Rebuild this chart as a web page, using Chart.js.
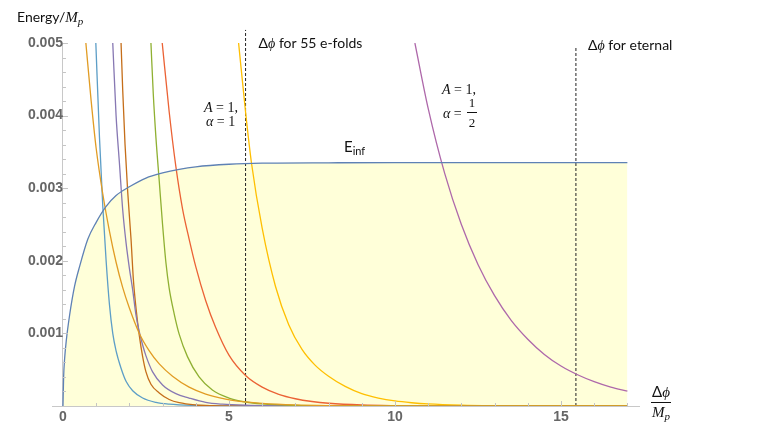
<!DOCTYPE html>
<html>
<head>
<meta charset="utf-8">
<script src="https://cdn.jsdelivr.net/npm/chart.js@4.4.1/dist/chart.umd.min.js"></script>
<style>
  html, body { margin: 0; padding: 0; background: #fff; }
  #wrap { width: 779px; height: 438px; position: relative; }
</style>
</head>
<body>
<div id="wrap"><canvas id="chart"></canvas></div>
<script>
// Energy / M_p against delta phi / M_p
const eInfX = [0, 0.02, 0.05, 0.1, 0.2, 0.35, 0.5, 0.75, 1.0, 1.3, 1.6, 2.0, 2.5, 3.0, 3.5, 4.0, 5.0, 6.0, 8.0, 10, 13, 17];
const eInfY = [0, 0.0004, 0.00065, 0.0009, 0.00125, 0.00165, 0.00192, 0.0023, 0.00253, 0.00275, 0.0029, 0.00302, 0.00314, 0.00321, 0.00326, 0.003295, 0.00333, 0.003345, 0.00335, 0.003352, 0.003352, 0.003352];

const orangeX = [0.69, 0.85, 1.0, 1.2, 1.4, 1.6, 1.8, 2.0, 2.3, 2.6, 2.9, 3.3, 3.8, 4.3, 4.9, 5.5, 6, 7, 8, 9, 10, 12, 17];
const orangeY = [0.005, 0.0042, 0.00355, 0.00292, 0.00241, 0.00198, 0.00163, 0.00135, 0.001, 0.00076, 0.00058, 0.00041, 0.00026, 0.000165, 0.000096, 0.000056, 0.000036, 0.000015, 0.000006, 0.0000024, 0.000001, 0.00000016, 0];

const lightBlueX = [0.99, 1.1, 1.2, 1.3, 1.4, 1.5, 1.6, 1.75, 1.9, 2.1, 2.4, 2.8, 3.2, 4, 5, 6, 8, 17];
const lightBlueY = [0.005, 0.0037, 0.00275, 0.002, 0.0014, 0.001, 0.00076, 0.00052, 0.00034, 0.00021, 0.00011, 0.00005, 0.000025, 0.000007, 0.000002, 0.0000005, 0, 0];

const purpleX = [1.5, 1.6, 1.7, 1.8, 1.9, 2.0, 2.1, 2.2, 2.3, 2.4, 2.5, 2.7, 3.0, 3.4, 3.8, 4.3, 4.8, 5.5, 6.5, 8, 17];
const purpleY = [0.005, 0.004, 0.00335, 0.0027, 0.00225, 0.0019, 0.0016, 0.00125, 0.00102, 0.00084, 0.00069, 0.00047, 0.00029, 0.00017, 0.00011, 0.00005, 0.000025, 0.00001, 0.000003, 0.0000005, 0];

const brownX = [1.75, 1.8, 1.87, 1.95, 2.05, 2.12, 2.2, 2.3, 2.4, 2.5, 2.65, 2.9, 3.2, 3.5, 4, 4.5, 5, 6, 17];
const brownY = [0.005, 0.00435, 0.0036, 0.00295, 0.0023, 0.00175, 0.00135, 0.00097, 0.00068, 0.00047, 0.0003, 0.00018, 0.00009, 0.000045, 0.000014, 0.000004, 0.0000015, 0, 0];

const greenX = [2.65, 2.72, 2.8, 2.9, 3.0, 3.1, 3.2, 3.35, 3.5, 3.75, 4.1, 4.5, 5.0, 5.5, 6, 7, 8, 10, 17];
const greenY = [0.005, 0.0043, 0.0037, 0.0031, 0.0025, 0.00198, 0.00162, 0.00127, 0.00099, 0.00068, 0.0004, 0.00022, 0.00011, 0.000055, 0.000028, 0.000008, 0.0000022, 0.0000002, 0];

const redX = [2.99, 3.2, 3.4, 3.6, 3.8, 4.0, 4.3, 4.6, 5.0, 5.5, 6.0, 6.5, 7.0, 7.5, 8, 9, 10, 11, 13, 17];
const redY = [0.005, 0.00405, 0.0033, 0.00272, 0.0023, 0.00192, 0.00145, 0.00108, 0.0007, 0.00042, 0.00026, 0.00016, 0.0001, 0.000062, 0.000038, 0.000014, 0.000005, 0.000002, 0.0000003, 0];

const yellowX = [5.29, 5.5, 5.68, 6.0, 6.4, 6.8, 7.2, 7.6, 8.0, 8.5, 9.0, 9.5, 10, 10.5, 11, 12, 13, 14, 15, 17];
const yellowY = [0.005, 0.00405, 0.00334, 0.00245, 0.00165, 0.00112, 0.00078, 0.00056, 0.00041, 0.00027, 0.00017, 0.00011, 0.00007, 0.000045, 0.000028, 0.000011, 0.000004, 0.0000015, 0.0000006, 0.0000001];

const mauveX = [10.6, 11, 11.5, 12, 12.5, 13, 13.5, 14, 14.5, 15, 15.5, 16, 16.5, 17];
const mauveY = [0.005, 0.0041, 0.0032, 0.0025, 0.00195, 0.00152, 0.00118, 0.00092, 0.00071, 0.00055, 0.00043, 0.000335, 0.00026, 0.000205];

// delta phi for 55 e-folds and for eternal inflation
const markerX = [5.5, 15.45];
const markerTop = [0.00518, 0.00495];

const xTicks = [0, 5, 10, 15];
const yTicks = [0.001, 0.002, 0.003, 0.004, 0.005];

const SANS = "Lato, 'Open Sans', sans-serif";
const MATH = "'Liberation Serif', 'DejaVu Serif', serif";
const TICKFONT = "'Liberation Sans', Arial, sans-serif";

function pts(xs, ys) {
  return xs.map(function(x, i) { return { x: x, y: ys[i] }; });
}

function curve(xs, ys, color) {
  return {
    data: pts(xs, ys),
    borderColor: color,
    borderWidth: 1.3,
    pointRadius: 0,
    fill: false,
    cubicInterpolationMode: "monotone"
  };
}

function marker(i) {
  return {
    data: [{ x: markerX[i], y: 0 }, { x: markerX[i], y: markerTop[i] }],
    borderColor: "#222",
    borderWidth: 1,
    borderDash: [3, 2],
    pointRadius: 0,
    fill: false,
    clip: false
  };
}

// draws a row of text pieces with their own fonts: [text, font, dy]
function runs(ctx, x, y, parts) {
  parts.forEach(function(p) {
    ctx.font = p[1];
    ctx.fillText(p[0], x, y + (p[2] || 0));
    x += ctx.measureText(p[0]).width;
  });
  return x;
}

// small inside ticks like the original axes
const ticksPlugin = {
  id: "insideTicks",
  afterDatasetsDraw(chart) {
    const ctx = chart.ctx;
    const xs = chart.scales.x, ys = chart.scales.y;
    const x0 = xs.getPixelForValue(0), y0 = ys.getPixelForValue(0);
    ctx.save();
    ctx.strokeStyle = "#c4c4c4";
    ctx.lineWidth = 1;
    ctx.beginPath();
    for (let v = 0.0002; v <= 0.00501; v += 0.0002) {
      const y = Math.round(ys.getPixelForValue(v)) + 0.5;
      const major = Math.abs(v * 1000 - Math.round(v * 1000)) < 1e-6;
      ctx.moveTo(x0, y);
      ctx.lineTo(x0 + (major ? 5 : 3), y);
    }
    for (let v = 1; v <= 17; v++) {
      const x = Math.round(xs.getPixelForValue(v)) + 0.5;
      ctx.moveTo(x, y0);
      ctx.lineTo(x, y0 - (v % 5 === 0 ? 5 : 3));
    }
    ctx.stroke();
    ctx.restore();
  }
};

const labelsPlugin = {
  id: "labels",
  afterDraw(chart) {
    const ctx = chart.ctx;
    const xs = chart.scales.x;
    ctx.save();
    ctx.fillStyle = "#111";
    ctx.textBaseline = "alphabetic";
    ctx.textAlign = "left";

    // y axis title
    runs(ctx, 17, 22, [["Energy/", "14px " + SANS], ["M", "italic 15px " + MATH], ["p", "italic 11px " + MATH, 3]]);

    // x axis title as a fraction
    const fx = 661;
    ctx.font = "15px " + SANS;
    const dw = ctx.measureText("Δ").width;
    ctx.font = "italic 15px " + MATH;
    const pw = ctx.measureText("ϕ").width;
    runs(ctx, fx - (dw + pw) / 2, 397, [["Δ", "15px " + SANS], ["ϕ", "italic 15px " + MATH]]);
    ctx.fillRect(651, 402, 20, 1);
    runs(ctx, 652, 417, [["M", "italic 15px " + MATH], ["p", "italic 11px " + MATH, 3]]);

    // dashed line captions
    const m1 = xs.getPixelForValue(markerX[0]);
    const m2 = xs.getPixelForValue(markerX[1]);
    runs(ctx, m1 + 13, 48, [["Δ", "14px " + SANS], ["ϕ", "italic 14px " + MATH], [" for 55 e-folds", "14px " + SANS]]);
    runs(ctx, m2 + 12, 50, [["Δ", "14px " + SANS], ["ϕ", "italic 14px " + MATH], [" for eternal", "14px " + SANS]]);

    // parameter notes
    runs(ctx, 204, 112, [["A", "italic 14px " + MATH], [" = 1,", "14px " + MATH]]);
    runs(ctx, 206, 126, [["α", "italic 14px " + MATH], [" = 1", "14px " + MATH]]);
    runs(ctx, 442, 94, [["A", "italic 14px " + MATH], [" = 1,", "14px " + MATH]]);
    runs(ctx, 443, 118, [["α", "italic 14px " + MATH], [" = ", "14px " + MATH]]);
    ctx.textAlign = "center";
    ctx.font = "13px " + MATH;
    ctx.fillText("1", 472, 107);
    ctx.fillText("2", 472, 127);
    ctx.fillRect(467, 112, 10, 1);
    ctx.textAlign = "left";

    // E_inf
    runs(ctx, 344, 152, [["E", "15px " + SANS], ["inf", "11px " + SANS, 3]]);
    ctx.restore();
  }
};

new Chart(document.getElementById("chart"), {
  type: "line",
  data: {
    datasets: [
      Object.assign(curve(eInfX, eInfY, "#5e81b5"), { fill: "origin", backgroundColor: "#ffffd9" }),
      curve(orangeX, orangeY, "#e19c24"),
      curve(greenX, greenY, "#8fb032"),
      curve(redX, redY, "#eb6235"),
      curve(purpleX, purpleY, "#8778b3"),
      curve(brownX, brownY, "#c56e1a"),
      curve(lightBlueX, lightBlueY, "#5d9ec7"),
      curve(yellowX, yellowY, "#ffbf00"),
      curve(mauveX, mauveY, "#ae68aa"),
      marker(0),
      marker(1)
    ]
  },
  options: {
    responsive: true,
    maintainAspectRatio: false,
    animation: false,
    layout: { padding: { left: 52, right: 140, top: 43, bottom: 32 } },
    plugins: {
      legend: { display: false },
      tooltip: { enabled: false },
      filler: { drawTime: "beforeDatasetsDraw" }
    },
    scales: {
      x: {
        type: "linear",
        position: { y: 0 },
        min: -0.33,
        max: 17.35,
        afterBuildTicks: function(scale) { scale.ticks = xTicks.map(function(v) { return { value: v }; }); },
        grid: { display: false, drawTicks: false },
        border: { display: true, color: "#c8c8c8", width: 1 },
        ticks: { color: "#666", padding: 3, font: { family: TICKFONT, size: 14, weight: "bold" } }
      },
      y: {
        type: "linear",
        position: { x: 0 },
        min: 0,
        max: 0.005,
        afterBuildTicks: function(scale) { scale.ticks = yTicks.map(function(v) { return { value: v }; }); },
        grid: { display: false, drawTicks: false },
        border: { display: true, color: "#c8c8c8", width: 1 },
        ticks: {
          color: "#666", padding: 4,
          font: { family: TICKFONT, size: 14, weight: "bold" },
          callback: function(v) { return v.toFixed(3); }
        }
      }
    }
  },
  plugins: [ticksPlugin, labelsPlugin]
});
</script>
</body>
</html>
